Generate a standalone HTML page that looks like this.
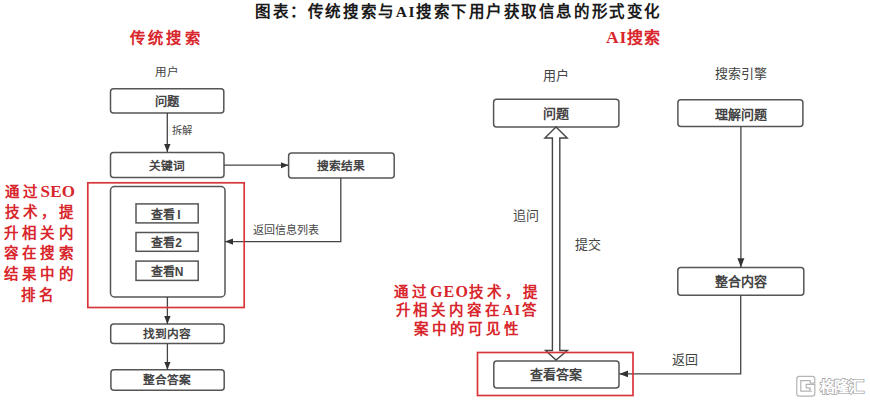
<!DOCTYPE html>
<html lang="zh-CN"><head><meta charset="utf-8">
<style>
html,body{margin:0;padding:0;background:#fff;}
body{width:870px;height:403px;overflow:hidden;position:relative;font-family:"Liberation Sans",sans-serif;}
svg{position:absolute;left:0;top:0;}
.t{font-family:"Liberation Sans",sans-serif;fill:#444;font-weight:700;}
.r{font-family:"Liberation Serif",serif;fill:#d8262c;font-weight:bold;}
.h{font-family:"Liberation Serif",serif;fill:#1a1a1a;font-weight:bold;}
</style></head><body>
<svg width="870" height="403" viewBox="0 0 870 403">
<defs>
<marker id="ah" markerWidth="10" markerHeight="10" refX="8" refY="5" orient="auto" markerUnits="userSpaceOnUse">
<path d="M0,1.8 L8,5 L0,8.2 Z" fill="#333"/>
</marker>
<marker id="ah2" markerWidth="10" markerHeight="10" refX="9" refY="5" orient="auto" markerUnits="userSpaceOnUse">
<path d="M0,1.5 L9,5 L0,8.5 Z" fill="#333"/>
</marker>
</defs>
<!-- title -->
<text class="h" x="458.5" y="16.5" font-size="15.5" text-anchor="middle" letter-spacing="1.55">图表：传统搜索与AI搜索下用户获取信息的形式变化</text>
<text class="r" x="166.5" y="43" font-size="15.3" text-anchor="middle" letter-spacing="3.3">传统搜索</text>
<text class="r" x="606" y="43" font-size="16" letter-spacing="1.3"><tspan font-size="17.5" letter-spacing="0.8">AI</tspan>搜索</text>

<g fill="none" stroke="#555" stroke-width="1.5">
<!-- left boxes -->
<rect x="110.5" y="88.7" width="113.3" height="24.2" rx="3"/>
<rect x="110.5" y="152.6" width="113.5" height="24.8" rx="3"/>
<rect x="288.6" y="152.9" width="105.6" height="25.2" rx="3"/>
<rect x="110.5" y="186.6" width="114.5" height="110.4" rx="4"/>
<rect x="136" y="203.9" width="62.2" height="19" />
<rect x="136" y="232.5" width="62.2" height="18.8" />
<rect x="136" y="261.1" width="62.2" height="19.3" />
<rect x="110.7" y="324" width="113.5" height="19.5" rx="3"/>
<rect x="110.9" y="369.8" width="113.3" height="20.4" rx="3"/>
<!-- right boxes -->
<rect x="493.6" y="99.3" width="125.3" height="27.6" rx="3"/>
<rect x="677.9" y="99.7" width="125" height="26.8" rx="3"/>
<rect x="677.8" y="267.4" width="126" height="27.8" rx="3"/>
<rect x="493.8" y="360.9" width="125.2" height="27" rx="3"/>
</g>
<g fill="none" stroke="#444" stroke-width="1.3">
<line x1="167.3" y1="113" x2="167.3" y2="152" marker-end="url(#ah)"/>
<line x1="224" y1="165.2" x2="288.5" y2="165.2" marker-end="url(#ah)"/>
<polyline points="340.8,178 340.8,241.6 225,241.6" marker-end="url(#ah)"/>
<line x1="167.4" y1="297" x2="167.4" y2="324" marker-end="url(#ah)"/>
<line x1="167.4" y1="343.5" x2="167.4" y2="369.8" marker-end="url(#ah)"/>
<line x1="740.9" y1="126.5" x2="740.9" y2="267.2" marker-end="url(#ah2)"/>
<polyline points="740.7,295.2 740.7,373.9 619.4,373.9" marker-end="url(#ah2)"/>
</g>
<!-- hollow double arrow -->
<path d="M556,127 L567.2,138 L559.8,138 L559.8,350.5 L567.4,350.5 L556,360 L545.6,350.5 L552.4,350.5 L552.4,138 L544.9,138 Z" fill="#fff" stroke="#444" stroke-width="1.4" stroke-linejoin="miter"/>
<!-- red rects -->
<g fill="none" stroke="#d9363b" stroke-width="1.7">
<rect x="87.8" y="182.8" width="156.4" height="124.7"/>
<rect x="477.5" y="352.5" width="155.5" height="43"/>
</g>
<!-- box texts -->
<g class="t" font-size="11.7" text-anchor="middle">
<text x="167.2" y="76" font-size="11.6" style="font-weight:500">用户</text>
<text x="167.3" y="105.5" font-size="12.3">问题</text>
<text x="172.3" y="134" font-size="10.3" text-anchor="start" style="font-weight:500">拆解</text>
<text x="167.3" y="169.5">关键词</text>
<text x="341.4" y="169.7">搜索结果</text>
<text x="166" y="219" font-size="12">查看<tspan dx="2">I</tspan></text>
<text x="166.5" y="246.6" font-size="12">查看2</text>
<text x="167" y="276.2" font-size="12">查看N</text>
<text x="286" y="233.5" font-size="11" style="font-weight:500">返回信息列表</text>
<text x="167.4" y="337.7">找到内容</text>
<text x="167.4" y="383.8">整合答案</text>
</g>
<g class="t" font-size="13" text-anchor="middle">
<text x="556" y="80" style="font-weight:500">用户</text>
<text x="556" y="118">问题</text>
<text x="741.4" y="78" style="font-weight:500">搜索引擎</text>
<text x="741" y="118.5">理解问题</text>
<text x="740.7" y="286">整合内容</text>
<text x="556.3" y="378.7">查看答案</text>
<text x="525.8" y="219.5" style="font-weight:500">追问</text>
<text x="588.3" y="248.5" style="font-weight:500">提交</text>
<text x="685.2" y="364" style="font-weight:500">返回</text>
</g>
<!-- red texts -->
<g class="r" font-size="14.5" text-anchor="middle" letter-spacing="4.2">
<text x="40.3" y="196.5" letter-spacing="3.6">通过<tspan font-size="17" letter-spacing="0.2">SEO</tspan></text>
<text x="41" y="217">技术，提</text>
<text x="40.5" y="237.5">升相关内</text>
<text x="40.5" y="258">容在搜索</text>
<text x="40.5" y="279">结果中的</text>
<text x="39.5" y="299.5">排名</text>
<text x="467.5" y="296.5" letter-spacing="4">通过<tspan font-size="16" letter-spacing="1.2">GEO</tspan>技术，提</text>
<text x="467.5" y="315" letter-spacing="3.8">升相关内容在<tspan letter-spacing="1.5">AI</tspan>答</text>
<text x="467.5" y="334" letter-spacing="4">案中的可见性</text>
</g>
<!-- watermark -->
<path d="M796.8,379 q0,-2.6 2.6,-2.6 h12.8 q2.6,0 2.6,2.6 v4 h-4.6 v-2.4 h-9.4 v10.6 h9.4 v-3.2 h-4 v-3.6 h8.6 v9.2 q0,2.6 -2.6,2.6 h-12.8 q-2.6,0 -2.6,-2.6 Z" fill="#fff" stroke="#b4b4b4" stroke-width="1.2"/>
<path d="M806,386 L812,392" stroke="#c4c4c4" stroke-width="1" fill="none"/>
<text x="819.5" y="392.2" font-size="15.2" font-weight="900" fill="#fff" stroke="#a8a8a8" stroke-width="1.6" paint-order="stroke" letter-spacing="-0.4" font-family="Liberation Sans,sans-serif">格隆汇</text>
</svg>
</body></html>
